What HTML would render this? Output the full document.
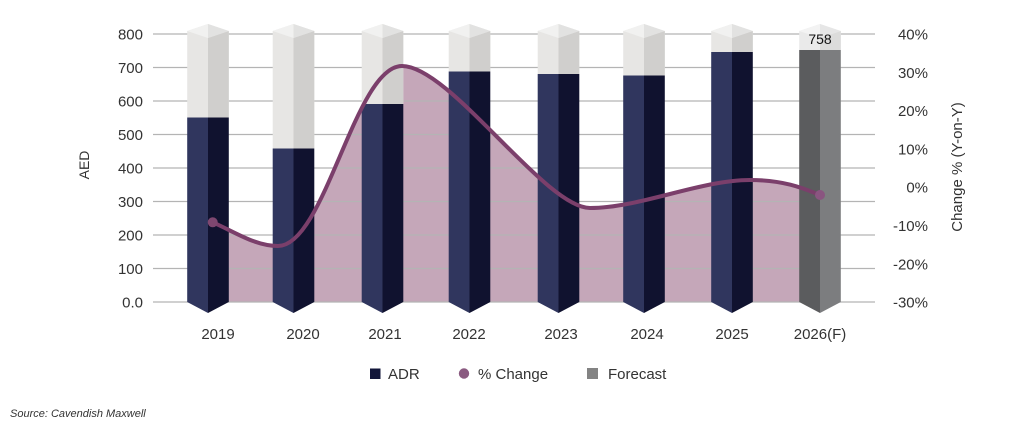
<!DOCTYPE html>
<html>
<head>
<meta charset="utf-8">
<style>
  html,body{margin:0;padding:0;background:#fff;}
  svg{display:block;}
  text{font-family:"Liberation Sans",sans-serif;fill:#333;}
</style>
</head>
<body>
<svg width="1024" height="430" viewBox="0 0 1024 430" xmlns="http://www.w3.org/2000/svg">
  <rect width="1024" height="430" fill="#fff"/>

  <!-- area fill -->
  <path fill="#c5a7b9" d="M212.7,222.3 C235,232 255,246 278,246 C325,246 355,66 402,66 C450,66 545,208 590,208 C640,208 700,180 750,180 C785,180 805,189 820,195 L820,302 L212.7,302 Z"/>

  <!-- gridlines -->
  <g stroke="#b4b4b4" stroke-width="1.2">
    <line x1="153" y1="34" x2="875" y2="34"/>
    <line x1="153" y1="67.5" x2="875" y2="67.5"/>
    <line x1="153" y1="101" x2="875" y2="101"/>
    <line x1="153" y1="134.5" x2="875" y2="134.5"/>
    <line x1="153" y1="168" x2="875" y2="168"/>
    <line x1="153" y1="201.5" x2="875" y2="201.5"/>
    <line x1="153" y1="235" x2="875" y2="235"/>
    <line x1="153" y1="268.5" x2="875" y2="268.5"/>
    <line x1="153" y1="302" x2="875" y2="302"/>
  </g>

  <!-- 2019 -->
  <g transform="translate(208,0)">
    <polygon points="-20.8,31 0,24 20.8,31 20.8,117.5 -20.8,117.5" fill="#e7e6e4"/>
    <polygon points="0,38 20.8,31 20.8,117.5 0,117.5" fill="#d0cfcd"/>
    <polygon points="-20.8,31 0,24 0,38" fill="#f1f1f0"/>
    <polygon points="0,24 20.8,31 0,38" fill="#e2e2e1"/>
    <polygon points="-20.8,117.5 0,117.5 0,313 -20.8,302" fill="#30365e"/>
    <polygon points="0,117.5 20.8,117.5 20.8,302 0,313" fill="#10122f"/>
  </g>
  <!-- 2020 -->
  <g transform="translate(293.5,0)">
    <polygon points="-20.8,31 0,24 20.8,31 20.8,148.5 -20.8,148.5" fill="#e7e6e4"/>
    <polygon points="0,38 20.8,31 20.8,148.5 0,148.5" fill="#d0cfcd"/>
    <polygon points="-20.8,31 0,24 0,38" fill="#f1f1f0"/>
    <polygon points="0,24 20.8,31 0,38" fill="#e2e2e1"/>
    <polygon points="-20.8,148.5 0,148.5 0,313 -20.8,302" fill="#30365e"/>
    <polygon points="0,148.5 20.8,148.5 20.8,302 0,313" fill="#10122f"/>
  </g>
  <!-- 2021 -->
  <g transform="translate(382.5,0)">
    <polygon points="-20.8,31 0,24 20.8,31 20.8,104 -20.8,104" fill="#e7e6e4"/>
    <polygon points="0,38 20.8,31 20.8,104 0,104" fill="#d0cfcd"/>
    <polygon points="-20.8,31 0,24 0,38" fill="#f1f1f0"/>
    <polygon points="0,24 20.8,31 0,38" fill="#e2e2e1"/>
    <polygon points="-20.8,104 0,104 0,313 -20.8,302" fill="#30365e"/>
    <polygon points="0,104 20.8,104 20.8,302 0,313" fill="#10122f"/>
  </g>
  <!-- 2022 -->
  <g transform="translate(469.5,0)">
    <polygon points="-20.8,31 0,24 20.8,31 20.8,71.5 -20.8,71.5" fill="#e7e6e4"/>
    <polygon points="0,38 20.8,31 20.8,71.5 0,71.5" fill="#d0cfcd"/>
    <polygon points="-20.8,31 0,24 0,38" fill="#f1f1f0"/>
    <polygon points="0,24 20.8,31 0,38" fill="#e2e2e1"/>
    <polygon points="-20.8,71.5 0,71.5 0,313 -20.8,302" fill="#30365e"/>
    <polygon points="0,71.5 20.8,71.5 20.8,302 0,313" fill="#10122f"/>
  </g>
  <!-- 2023 -->
  <g transform="translate(558.5,0)">
    <polygon points="-20.8,31 0,24 20.8,31 20.8,74 -20.8,74" fill="#e7e6e4"/>
    <polygon points="0,38 20.8,31 20.8,74 0,74" fill="#d0cfcd"/>
    <polygon points="-20.8,31 0,24 0,38" fill="#f1f1f0"/>
    <polygon points="0,24 20.8,31 0,38" fill="#e2e2e1"/>
    <polygon points="-20.8,74 0,74 0,313 -20.8,302" fill="#30365e"/>
    <polygon points="0,74 20.8,74 20.8,302 0,313" fill="#10122f"/>
  </g>
  <!-- 2024 -->
  <g transform="translate(644,0)">
    <polygon points="-20.8,31 0,24 20.8,31 20.8,75.5 -20.8,75.5" fill="#e7e6e4"/>
    <polygon points="0,38 20.8,31 20.8,75.5 0,75.5" fill="#d0cfcd"/>
    <polygon points="-20.8,31 0,24 0,38" fill="#f1f1f0"/>
    <polygon points="0,24 20.8,31 0,38" fill="#e2e2e1"/>
    <polygon points="-20.8,75.5 0,75.5 0,313 -20.8,302" fill="#30365e"/>
    <polygon points="0,75.5 20.8,75.5 20.8,302 0,313" fill="#10122f"/>
  </g>
  <!-- 2025 -->
  <g transform="translate(732,0)">
    <polygon points="-20.8,31 0,24 20.8,31 20.8,52 -20.8,52" fill="#e7e6e4"/>
    <polygon points="0,38 20.8,31 20.8,52 0,52" fill="#d0cfcd"/>
    <polygon points="-20.8,31 0,24 0,38" fill="#f1f1f0"/>
    <polygon points="0,24 20.8,31 0,38" fill="#e2e2e1"/>
    <polygon points="-20.8,52 0,52 0,313 -20.8,302" fill="#30365e"/>
    <polygon points="0,52 20.8,52 20.8,302 0,313" fill="#10122f"/>
  </g>
  <!-- 2026 forecast -->
  <g transform="translate(820,0)">
    <polygon points="-20.8,31 0,24 20.8,31 20.8,50 -20.8,50" fill="#eaeaea"/>
    <polygon points="0,38 20.8,31 20.8,50 0,50" fill="#dcdcdb"/>
    <polygon points="-20.8,31 0,24 0,38" fill="#f3f3f3"/>
    <polygon points="0,24 20.8,31 0,38" fill="#e6e6e6"/>
    <polygon points="-20.8,50 0,50 0,313 -20.8,302" fill="#5b5c5e"/>
    <polygon points="0,50 20.8,50 20.8,302 0,313" fill="#7c7d7f"/>
    <text x="0" y="44" text-anchor="middle" font-size="14" style="fill:#111">758</text>
  </g>

  <!-- % change line -->
  <path fill="none" stroke="#7b3f6b" stroke-width="4" stroke-linecap="round"
    d="M212.7,222.3 C235,232 255,246 278,246 C325,246 355,66 402,66 C450,66 545,208 590,208 C640,208 700,180 750,180 C785,180 805,189 820,195"/>
  <circle cx="212.7" cy="222.3" r="5" fill="#7e4770"/>
  <circle cx="820" cy="195" r="5" fill="#8a5580"/>

  <!-- left axis labels -->
  <g font-size="15" text-anchor="end">
    <text x="143" y="39.5">800</text>
    <text x="143" y="73">700</text>
    <text x="143" y="106.5">600</text>
    <text x="143" y="140">500</text>
    <text x="143" y="173.5">400</text>
    <text x="143" y="207">300</text>
    <text x="143" y="240.5">200</text>
    <text x="143" y="274">100</text>
    <text x="143" y="307.5">0.0</text>
  </g>
  <text x="0" y="0" font-size="14" text-anchor="middle" transform="translate(89,165) rotate(-90)">AED</text>

  <!-- right axis labels -->
  <g font-size="15" text-anchor="end">
    <text x="928" y="39.5">40%</text>
    <text x="928" y="77.8">30%</text>
    <text x="928" y="116.1">20%</text>
    <text x="928" y="154.4">10%</text>
    <text x="928" y="192.7">0%</text>
    <text x="928" y="231">-10%</text>
    <text x="928" y="269.3">-20%</text>
    <text x="928" y="307.5">-30%</text>
  </g>
  <text x="0" y="0" font-size="15" text-anchor="middle" transform="translate(962,167) rotate(-90)">Change % (Y-on-Y)</text>

  <!-- x labels -->
  <g font-size="15" text-anchor="middle">
    <text x="218" y="339">2019</text>
    <text x="303" y="339">2020</text>
    <text x="385" y="339">2021</text>
    <text x="469" y="339">2022</text>
    <text x="561" y="339">2023</text>
    <text x="647" y="339">2024</text>
    <text x="732" y="339">2025</text>
    <text x="820" y="339">2026(F)</text>
  </g>

  <!-- legend -->
  <rect x="370" y="368.5" width="10.5" height="10.5" fill="#12163a"/>
  <text x="388" y="379" font-size="15">ADR</text>
  <circle cx="464" cy="373.5" r="5.2" fill="#8a5a80"/>
  <text x="478" y="379" font-size="15">% Change</text>
  <rect x="587" y="368" width="11" height="11" fill="#838383"/>
  <text x="608" y="379" font-size="15">Forecast</text>

  <!-- source -->
  <text x="10" y="417" font-size="11" font-style="italic">Source: Cavendish Maxwell</text>
</svg>
</body>
</html>
